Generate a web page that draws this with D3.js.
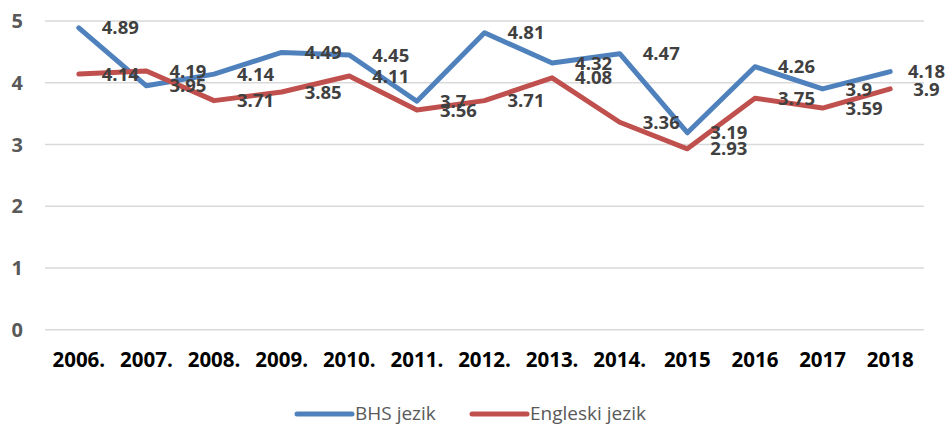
<!DOCTYPE html>
<html>
<head>
<meta charset="utf-8">
<script src="https://cdn.jsdelivr.net/npm/d3@7"></script>
<style>
  body { margin: 0; background: #fff; }
  svg { font-family: "Open Sans", "Liberation Sans", sans-serif; }
</style>
</head>
<body>
<div id="chart"></div>
<script>
// categories and series
var years = ["2006.", "2007.", "2008.", "2009.", "2010.", "2011.", "2012.",
             "2013.", "2014.", "2015", "2016", "2017", "2018"];
var bhs = [4.89, 3.95, 4.14, 4.49, 4.45, 3.7, 4.81, 4.32, 4.47, 3.19, 4.26, 3.9, 4.18];
var engleski = [4.14, 4.19, 3.71, 3.85, 4.11, 3.56, 3.71, 4.08, 3.36, 2.93, 3.75, 3.59, 3.9];
var yTicks = [0, 1, 2, 3, 4, 5];
var seriesNames = ["BHS jezik", "Engleski jezik"];

var width = 948,
    height = 425;

var series = [
  {name: seriesNames[0], values: bhs, color: "#4f81bd"},
  {name: seriesNames[1], values: engleski, color: "#c0504d"}
];

var svg = d3.select("#chart").append("svg")
    .attr("width", width)
    .attr("height", height);

var x = d3.scaleBand()
    .domain(years)
    .range([45, 924])
    .paddingInner(0);

var y = d3.scaleLinear()
    .domain([0, 5])
    .range([329.7, 21]);

function px(i) { return x(years[i]) + x.bandwidth() / 2; }

// horizontal gridlines
svg.append("g")
    .selectAll("line")
    .data(yTicks)
  .enter().append("line")
    .attr("x1", 45)
    .attr("x2", 924)
    .attr("y1", function(d) { return y(d); })
    .attr("y2", function(d) { return y(d); })
    .style("stroke", "#d9d9d9")
    .style("stroke-width", 1.5);

// y tick labels
svg.append("g")
    .selectAll("text")
    .data(yTicks)
  .enter().append("text")
    .attr("x", 23)
    .attr("y", function(d) { return y(d); })
    .attr("dy", ".36em")
    .style("text-anchor", "end")
    .style("font-size", "20px")
    .style("font-weight", "bold")
    .style("fill", "#595959")
    .text(function(d) { return d; });

// x category labels
svg.append("g")
    .selectAll("text")
    .data(years)
  .enter().append("text")
    .attr("x", function(d) { return x(d) + x.bandwidth() / 2; })
    .attr("y", 360)
    .attr("dy", ".36em")
    .style("text-anchor", "middle")
    .style("font-size", "20.5px")
    .style("font-weight", "bold")
    .style("fill", "#000")
    .text(function(d) { return d; });

// lines
var line = d3.line()
    .x(function(d, i) { return px(i); })
    .y(function(d) { return y(d); });

svg.append("g")
    .selectAll("path")
    .data(series)
  .enter().append("path")
    .attr("d", function(d) { return line(d.values); })
    .style("fill", "none")
    .style("stroke", function(d) { return d.color; })
    .style("stroke-width", 5)
    .style("stroke-linejoin", "round")
    .style("stroke-linecap", "round");

// data labels, placed to the right of each point
series.forEach(function(s) {
  svg.append("g")
      .selectAll("text")
      .data(s.values)
    .enter().append("text")
      .attr("x", function(d, i) { return px(i) + 23; })
      .attr("y", function(d) { return y(d); })
      .attr("dy", ".36em")
      .style("font-size", "18.5px")
      .style("font-weight", "bold")
      .style("fill", "#404040")
      .text(function(d) { return d; })
      .each(function() {
        // keep labels inside the chart area
        var bb = this.getBBox();
        if (bb.x + bb.width > 945) d3.select(this).attr("x", 945 - bb.width);
      });
});

// legend
var legend = svg.append("g")
    .selectAll("g")
    .data(series)
  .enter().append("g")
    .attr("transform", function(d, i) { return "translate(" + (i == 0 ? 297 : 472) + ",414)"; });

legend.append("line")
    .attr("x1", 0)
    .attr("x2", 55)
    .style("stroke", function(d) { return d.color; })
    .style("stroke-width", 5)
    .style("stroke-linecap", "round");

legend.append("text")
    .attr("x", 58)
    .attr("y", 6)
    .style("font-size", "19px")
    .style("fill", "#595959")
    .text(function(d) { return d.name; });
</script>
</body>
</html>
